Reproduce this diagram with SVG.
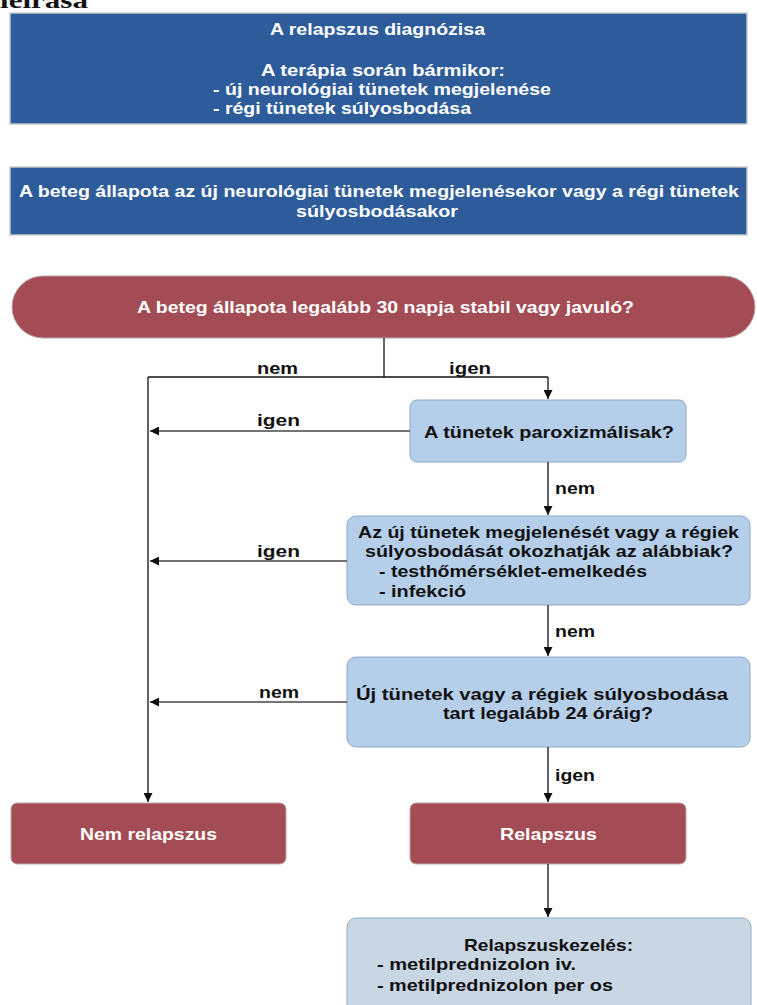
<svg xmlns="http://www.w3.org/2000/svg" width="757" height="1005" viewBox="0 0 757 1005">
<defs>
<style>
.hd{fill:#2e5c9b;stroke:#c9c9c9;stroke-width:1.5}
.red{fill:#a34c56;stroke:#b9a7a9;stroke-width:1}
.blue{fill:#b5cfea;stroke:#8ea9c6;stroke-width:1}
.grey{fill:#c9d6e4;stroke:#9aabbd;stroke-width:1}
.wt{font-family:"Liberation Sans",Arial,sans-serif;font-weight:bold;font-size:17px;fill:#ffffff}
.bt{font-family:"Liberation Sans",Arial,sans-serif;font-weight:bold;font-size:17px;fill:#111111}
.lb{font-family:"Liberation Sans",Arial,sans-serif;font-weight:bold;font-size:16px;fill:#111111}
.c{text-anchor:middle}
.ln{fill:none;stroke:#111;stroke-width:1.3}
.lg{fill:none;stroke:#444;stroke-width:1.3}
</style>
<marker id="ah" viewBox="0 0 10 10" refX="10" refY="5" markerWidth="9" markerHeight="9" markerUnits="userSpaceOnUse" orient="auto">
<path d="M0,0 L10,5 L0,10 z" fill="#111"/>
</marker>
</defs>
<text x="0" y="8" font-family="Liberation Serif,serif" font-weight="bold" font-size="24" fill="#111" textLength="88" lengthAdjust="spacingAndGlyphs">leírása</text>

<g id="n-diag">
<rect class="hd" x="10" y="13" width="737" height="111"/>
<text class="wt" x="270" y="35" textLength="215" lengthAdjust="spacingAndGlyphs">A relapszus diagnózisa</text>
<text class="wt" x="261" y="76" textLength="244" lengthAdjust="spacingAndGlyphs">A terápia során bármikor:</text>
<text class="wt" x="213" y="95" textLength="338" lengthAdjust="spacingAndGlyphs">- új neurológiai tünetek megjelenése</text>
<text class="wt" x="213" y="114" textLength="258" lengthAdjust="spacingAndGlyphs">- régi tünetek súlyosbodása</text>
</g>

<g id="n-allapot">
<rect class="hd" x="10" y="167" width="737" height="68"/>
<text class="wt" x="19" y="197" textLength="720" lengthAdjust="spacingAndGlyphs">A beteg állapota az új neurológiai tünetek megjelenésekor vagy a régi tünetek</text>
<text class="wt" x="296" y="217" textLength="162" lengthAdjust="spacingAndGlyphs">súlyosbodásakor</text>
</g>

<g id="n-stabil">
<rect class="red" x="12" y="276" width="743" height="62" rx="31"/>
<text class="wt" x="137" y="313" textLength="497" lengthAdjust="spacingAndGlyphs">A beteg állapota legalább 30 napja stabil vagy javuló?</text>
</g>

<g id="n-parox">
<rect class="blue" x="410" y="400" width="276" height="62" rx="7"/>
<text class="bt" x="424" y="438" textLength="250" lengthAdjust="spacingAndGlyphs">A tünetek paroxizmálisak?</text>
</g>

<g id="n-okoz">
<rect class="blue" x="347" y="516" width="403" height="89" rx="9"/>
<text class="bt" x="358" y="538" textLength="381" lengthAdjust="spacingAndGlyphs">Az új tünetek megjelenését vagy a régiek</text>
<text class="bt" x="365" y="557" textLength="368" lengthAdjust="spacingAndGlyphs">súlyosbodását okozhatják az alábbiak?</text>
<text class="bt" x="379" y="577" textLength="268" lengthAdjust="spacingAndGlyphs">- testhőmérséklet-emelkedés</text>
<text class="bt" x="379" y="597" textLength="87" lengthAdjust="spacingAndGlyphs">- infekció</text>
</g>

<g id="n-24">
<rect class="blue" x="347" y="657" width="403" height="90" rx="9"/>
<text class="bt" x="356" y="700" textLength="372" lengthAdjust="spacingAndGlyphs">Új tünetek vagy a régiek súlyosbodása</text>
<text class="bt" x="443" y="719" textLength="210" lengthAdjust="spacingAndGlyphs">tart legalább 24 óráig?</text>
</g>

<g id="n-nem">
<rect class="red" x="11" y="803" width="275" height="61" rx="6"/>
<text class="wt" x="80" y="840" textLength="137" lengthAdjust="spacingAndGlyphs">Nem relapszus</text>
</g>

<g id="n-rel">
<rect class="red" x="410" y="803" width="276" height="61" rx="6"/>
<text class="wt" x="500" y="840" textLength="97" lengthAdjust="spacingAndGlyphs">Relapszus</text>
</g>

<g id="n-kezeles">
<rect class="grey" x="347" y="918" width="404" height="100" rx="9"/>
<text class="bt" x="464" y="951" textLength="169" lengthAdjust="spacingAndGlyphs">Relapszuskezelés:</text>
<text class="bt" x="377" y="970" textLength="199" lengthAdjust="spacingAndGlyphs">- metilprednizolon iv.</text>
<text class="bt" x="377" y="991" textLength="236" lengthAdjust="spacingAndGlyphs">- metilprednizolon per os</text>
</g>

<g id="connectors">
<path class="ln" d="M384,338 V377"/>
<path class="ln" d="M148,377 H548"/>
<path class="ln" d="M548,377 V399" marker-end="url(#ah)"/>
<path class="ln" d="M148,377 V802" marker-end="url(#ah)"/>
<path class="lg" d="M410,431 H150" marker-end="url(#ah)"/>
<path class="ln" d="M548,462 V515" marker-end="url(#ah)"/>
<path class="lg" d="M347,561 H150" marker-end="url(#ah)"/>
<path class="ln" d="M548,605 V656" marker-end="url(#ah)"/>
<path class="lg" d="M347,702 H150" marker-end="url(#ah)"/>
<path class="ln" d="M548,747 V802" marker-end="url(#ah)"/>
<path class="ln" d="M548,864 V917" marker-end="url(#ah)"/>
<text class="lb" x="257" y="374" textLength="41" lengthAdjust="spacingAndGlyphs">nem</text>
<text class="lb" x="449" y="374" textLength="42" lengthAdjust="spacingAndGlyphs">igen</text>
<text class="lb" x="257" y="426" textLength="43" lengthAdjust="spacingAndGlyphs">igen</text>
<text class="lb" x="555" y="494" textLength="40" lengthAdjust="spacingAndGlyphs">nem</text>
<text class="lb" x="257" y="557" textLength="43" lengthAdjust="spacingAndGlyphs">igen</text>
<text class="lb" x="555" y="637" textLength="40" lengthAdjust="spacingAndGlyphs">nem</text>
<text class="lb" x="259" y="698" textLength="40" lengthAdjust="spacingAndGlyphs">nem</text>
<text class="lb" x="555" y="781" textLength="40" lengthAdjust="spacingAndGlyphs">igen</text>
</g>
</svg>
